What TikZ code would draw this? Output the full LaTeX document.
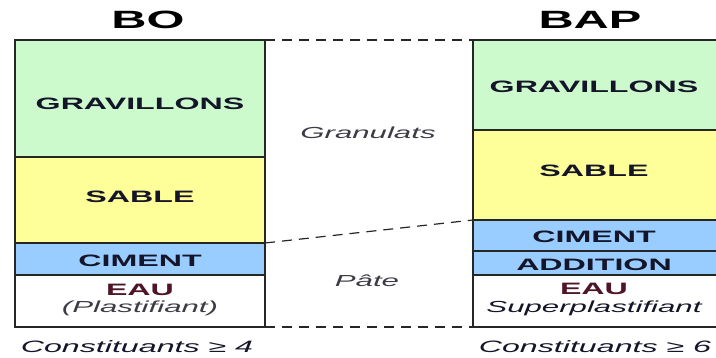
\documentclass[tikz,border=0pt]{standalone}
\usepackage{fontspec}
\setmainfont{Liberation Sans}
\usepackage{graphicx}

\definecolor{gravcol}{HTML}{CCFACC}
\definecolor{sablecol}{HTML}{FFFF99}
\definecolor{cimcol}{HTML}{99CCFF}
\definecolor{eaucol}{HTML}{4E1428}
\definecolor{txtcol}{HTML}{15152A}
\definecolor{softcol}{HTML}{3C3C46}

% text in the reference is stretched sideways
\newcommand{\wide}[1]{\scalebox{1.95}[1]{#1}}

\tikzset{
  cell/.style={draw=black!85,line width=1.6pt},
  lbl/.style={font=\fontsize{16.5}{18}\selectfont\bfseries,text=txtcol,inner sep=0pt},
  note/.style={font=\fontsize{16}{18}\selectfont\itshape,text=softcol,inner sep=0pt},
  title/.style={font=\fontsize{25}{28}\selectfont\bfseries,text=black,inner sep=0pt},
  split/.style={dash pattern=on 10pt off 7pt,line width=1.6pt,black!85}
}

\begin{document}
\begin{tikzpicture}[x=1pt,y=-1pt]
\useasboundingbox (0,0) rectangle (716,358);

% BO
\fill[gravcol] (15,40) rectangle (265,157);
\fill[sablecol] (15,157) rectangle (265,243);
\fill[cimcol] (15,243) rectangle (265,275);
\fill[white] (15,275) rectangle (265,327);
\draw[cell] (15,40) rectangle (265,327);
\draw[cell] (15,157) -- (265,157);
\draw[cell] (15,243) -- (265,243);
\draw[cell] (15,275) -- (265,275);

% BAP
\fill[gravcol] (473,40) rectangle (718,130);
\fill[sablecol] (473,130) rectangle (718,220);
\fill[cimcol] (473,220) rectangle (718,275);
\fill[white] (473,275) rectangle (718,327);
\draw[cell] (473,40) rectangle (718,327);
\draw[cell] (473,130) -- (718,130);
\draw[cell] (473,220) -- (718,220);
\draw[cell] (473,251) -- (718,251);
\draw[cell] (473,275) -- (718,275);

% links between the two
\coordinate (boTop) at (265,40);
\coordinate (boPate) at (265,243);
\coordinate (boBot) at (265,327);
\coordinate (bapTop) at (473,40);
\coordinate (bapPate) at (473,220);
\coordinate (bapBot) at (473,327);
\draw[split] (boTop) -- (bapTop);
\draw[split] (boBot) -- (bapBot);
\draw[split,line width=1.2pt] (boPate) -- (bapPate);

\node[title] (boTitle) at (148,20) {\wide{BO}};
\node[title] (bapTitle) at (590,20) {\wide{BAP}};

\node[lbl] (boGrav) at (140,104) {\wide{GRAVILLONS}};
\node[lbl] (boSable) at (140,197) {\wide{SABLE}};
\node[lbl] (boCim) at (140,261) {\wide{CIMENT}};
\node[lbl,text=eaucol] (boEau) at (140,290) {\wide{EAU}};
\node[note] (boPlast) at (140,308) {\wide{(Plastifiant)}};

\node[lbl] (bapGrav) at (594,87) {\wide{GRAVILLONS}};
\node[lbl] (bapSable) at (594,171) {\wide{SABLE}};
\node[lbl] (bapCim) at (594,237) {\wide{CIMENT}};
\node[lbl] (bapAdd) at (594,265) {\wide{ADDITION}};
\node[lbl,text=eaucol] (bapEau) at (594,289) {\wide{EAU}};
\node[note,text=txtcol] (bapSuper) at (594,308) {\wide{Superplastifiant}};

\node[note] (gran) at (368,133) {\wide{Granulats}};
\node[note] (pate) at (367,281) {\wide{Pâte}};

\node[note,text=txtcol,font=\fontsize{16.5}{18}\selectfont\itshape] (boCount) at (137,347) {\wide{Constituants ≥ 4}};
\node[note,text=txtcol,font=\fontsize{16.5}{18}\selectfont\itshape] (bapCount) at (595,347) {\wide{Constituants ≥ 6}};
\end{tikzpicture}
\end{document}
